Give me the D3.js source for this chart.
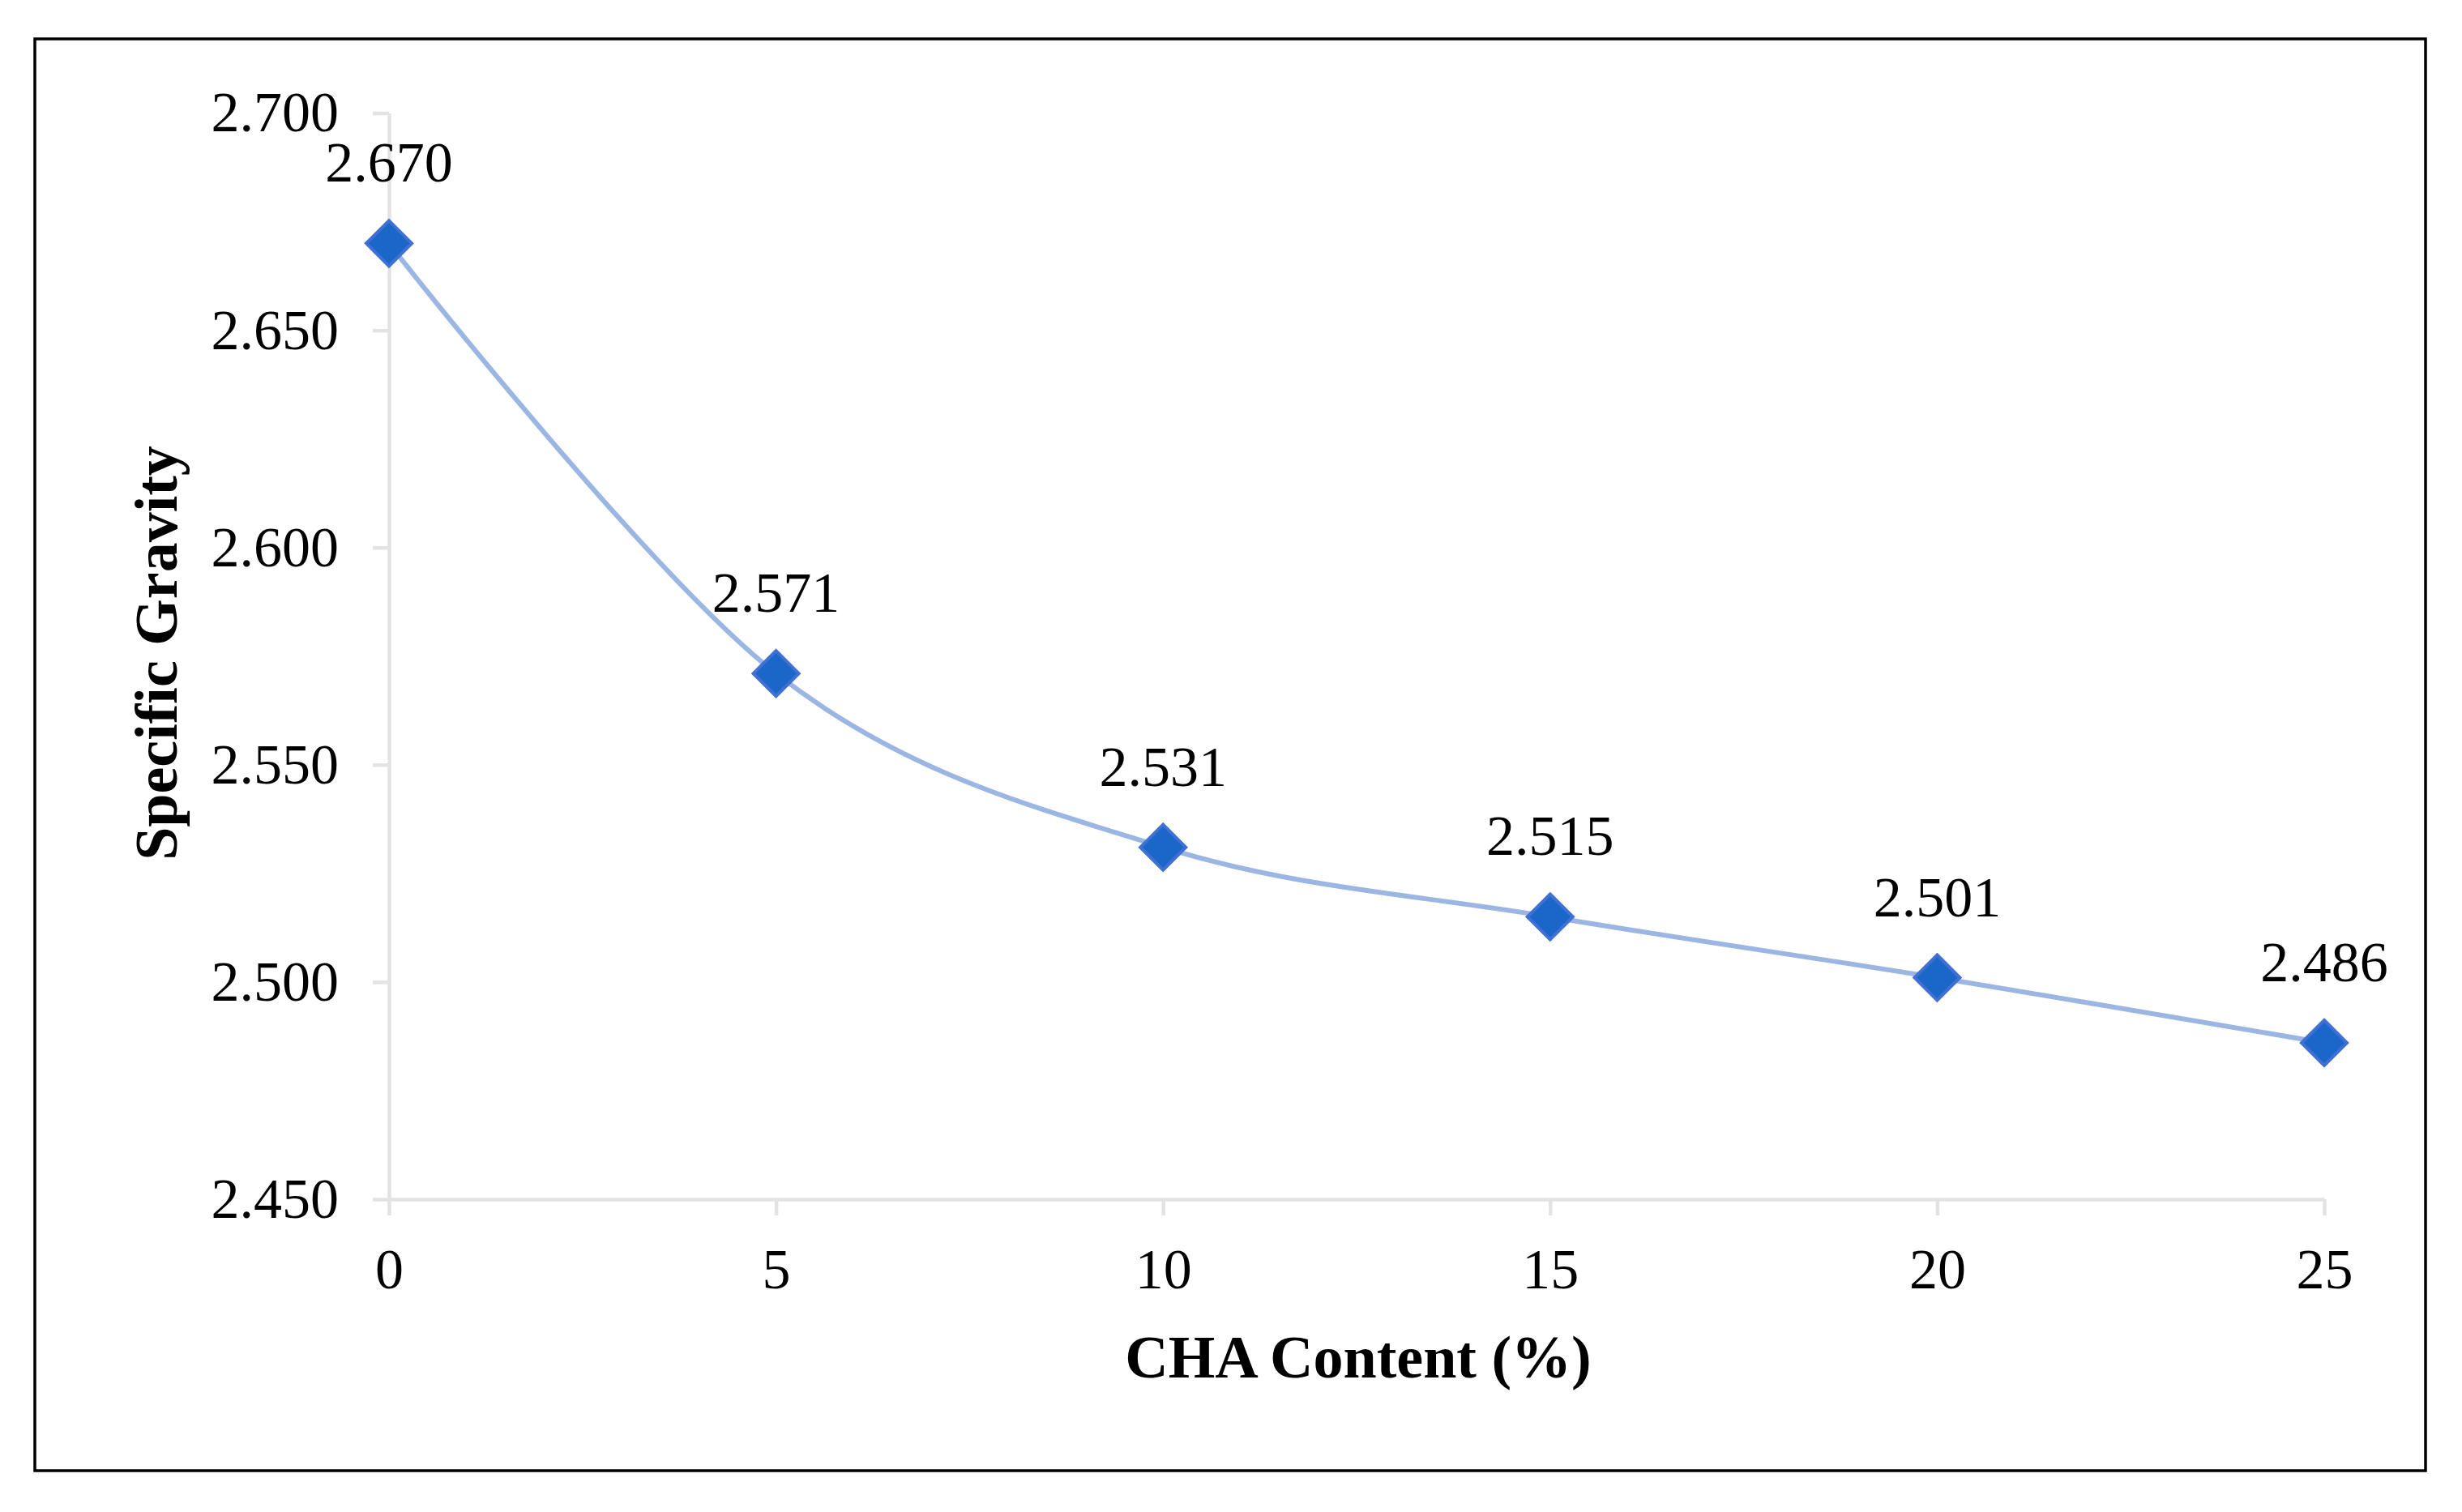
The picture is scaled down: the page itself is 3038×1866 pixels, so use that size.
<!DOCTYPE html>
<html><head><meta charset="utf-8">
<script src="https://cdn.jsdelivr.net/npm/d3@7"></script>
<style>html,body{margin:0;padding:0;background:#fff;}</style>
</head><body>
<svg id="c" width="3038" height="1866"></svg>
<script>
const xValues = [0, 5, 10, 15, 20, 25];
const specificGravity = [2.670, 2.571, 2.531, 2.515, 2.501, 2.486];
const yTicks = [2.450, 2.500, 2.550, 2.600, 2.650, 2.700];
const xTicks = [0, 5, 10, 15, 20, 25];
const xTitle = "CHA Content (%)";
const yTitle = "Specific Gravity";

const svg = d3.select("#c");
svg.append("rect").attr("x",0).attr("y",0).attr("width",3038).attr("height",1866).attr("fill","#fff");
svg.append("rect").attr("x",43).attr("y",48).attr("width",2950).attr("height",1767)
  .attr("fill","none").attr("stroke","#000").attr("stroke-width",3.5);

const x = d3.scaleLinear().domain([0,25]).range([480,2868]);
const y = d3.scaleLinear().domain([2.45,2.70]).range([1480,139.5]);
const font = "'Liberation Serif','Times New Roman',serif";
const axisColor = "#e3e3e3";

// y axis
const ya = svg.append("g").attr("transform",`translate(${x(0)},0)`)
  .call(d3.axisLeft(y).tickValues(yTicks).tickFormat(d3.format(".3f")).tickSizeInner(20).tickSizeOuter(0).tickPadding(42));
ya.select(".domain").attr("stroke",axisColor).attr("stroke-width",4.5);
ya.selectAll(".tick line").attr("stroke",axisColor).attr("stroke-width",4.5);
ya.selectAll(".tick text").attr("font-family",font).attr("font-size",70).attr("fill","#000");

// x axis
const xa = svg.append("g").attr("transform",`translate(0,${y(2.45)})`)
  .call(d3.axisBottom(x).tickValues(xTicks).tickFormat(d3.format("d")).tickSizeInner(20).tickSizeOuter(0).tickPadding(40));
xa.select(".domain").attr("stroke",axisColor).attr("stroke-width",4.5);
xa.selectAll(".tick line").attr("stroke",axisColor).attr("stroke-width",4.5);
xa.selectAll(".tick text").attr("font-family",font).attr("font-size",70).attr("fill","#000");

const pts = xValues.map((v,i)=>[v, specificGravity[i]]);
const line = d3.line().x(d=>x(d[0])).y(d=>y(d[1])).curve(d3.curveCardinal.tension(0));
svg.append("path").datum(pts).attr("d",line).attr("fill","none")
  .attr("stroke","#9bb6e3").attr("stroke-width",6);

const sym = d3.symbol().type(d3.symbolDiamond2).size(2000);
svg.selectAll(".pt").data(pts).enter().append("path")
  .attr("transform",d=>`translate(${x(d[0])},${y(d[1])})`)
  .attr("d",sym).attr("fill","#1a66c9").attr("stroke","#3f70d2").attr("stroke-width",4);

svg.selectAll(".lbl").data(pts).enter().append("text")
  .attr("x",d=>x(d[0])).attr("y",d=>y(d[1])-76)
  .attr("text-anchor","middle").attr("font-family",font).attr("font-size",70).attr("fill","#000")
  .text(d=>d3.format(".3f")(d[1]));

svg.append("text").attr("x",1676).attr("y",1700).attr("text-anchor","middle")
  .attr("font-family",font).attr("font-weight","bold").attr("font-size",74).attr("fill","#000").text(xTitle);
svg.append("text").attr("transform","translate(218,806) rotate(-90)").attr("text-anchor","middle")
  .attr("font-family",font).attr("font-weight","bold").attr("font-size",74).attr("fill","#000").text(yTitle);
</script>
</body></html>
